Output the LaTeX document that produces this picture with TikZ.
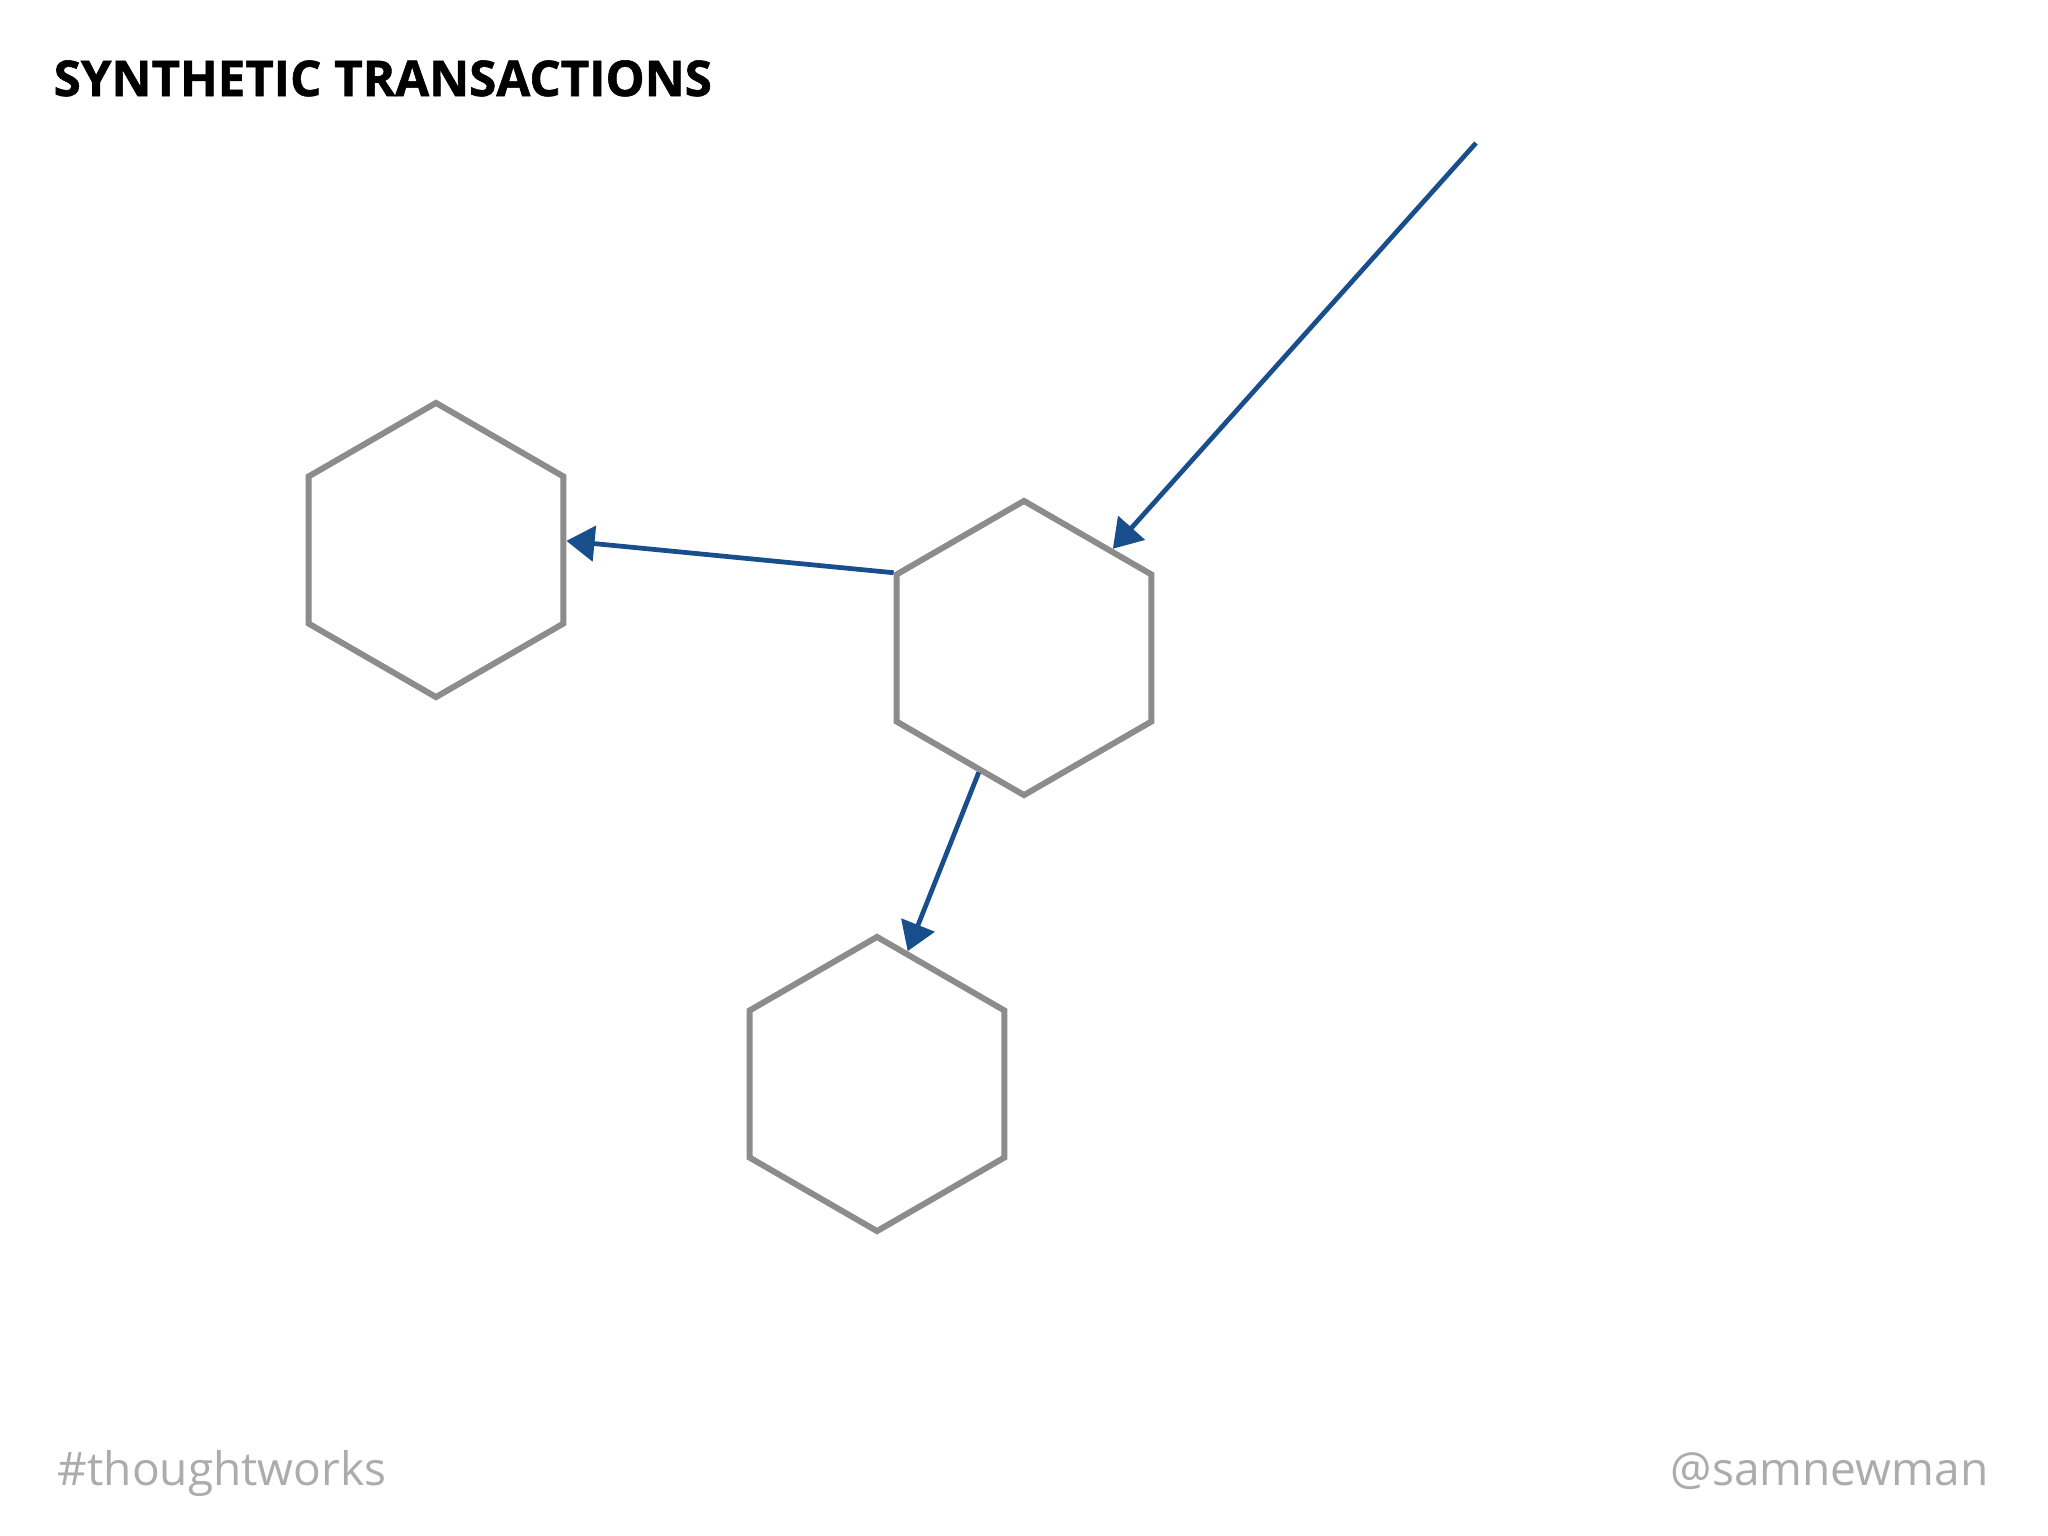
\documentclass[tikz,border=0pt]{standalone}
\usepackage{fontspec}
\setmainfont{Open Sans}
\newfontfamily\titlefont[BoldFeatures={FakeBold=1.2}]{Open Sans}
\usetikzlibrary{shapes.geometric,arrows.meta}
\definecolor{hexgray}{RGB}{140,140,140}
\definecolor{callblue}{RGB}{24,78,140}
\definecolor{footgray}{RGB}{172,172,172}
\begin{document}
\begin{tikzpicture}[x=0.01cm,y=-0.01cm,
		service/.style={regular polygon,regular polygon sides=6,regular polygon rotate=30,minimum size=2.94cm,inner sep=0pt,draw=hexgray,line width=1.7pt},
		call/.style={-{Triangle[length=8pt,width=10pt]},draw=callblue,line width=1.35pt},
		footer/.style={text=footgray,font=\fontsize{13.1}{16}\selectfont}]
	\useasboundingbox (0,0) rectangle (2048,1536);
	\node [anchor=base west,inner sep=0pt,font=\fontsize{14}{16}\titlefont\bfseries] (title) at (53,96) {SYNTHETIC TRANSACTIONS};
	\node [service] (left) at (436,550) {};
	\node [service] (middle) at (1024,648) {};
	\node [service] (bottom) at (877,1084) {};
	\coordinate (client) at (1476,143);
	\path (client) edge [call] (middle);
	\path (middle.150) edge [call] (left.4);
	\path (middle.250) edge [call] (bottom.77);
	\node [footer,anchor=base west,inner sep=0pt] (tag) at (57,1485) {\#thoughtworks};
	\node [footer,anchor=base east,inner sep=0pt] (handle) at (1989,1485) {@samnewman};
\end{tikzpicture}
\end{document}
